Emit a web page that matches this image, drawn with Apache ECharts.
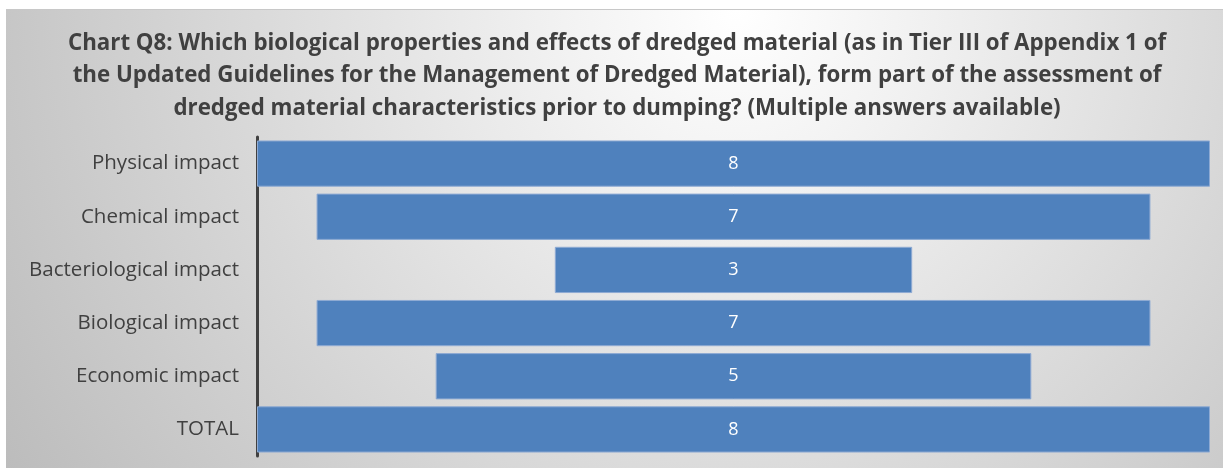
<!DOCTYPE html>
<html><head><meta charset="utf-8">
<script src="https://cdn.jsdelivr.net/npm/echarts@6/dist/echarts.min.js"></script>
<style>
html,body{margin:0;padding:0;background:#fff;}
#c{position:absolute;left:6px;top:9px;width:1217px;height:459px;border-top:1px solid #c8c8c8;
 background:radial-gradient(circle farthest-corner at 60% 0%, #ffffff 0%, #f2f2f2 20%, #bcbcbc 100%);}
</style></head><body>
<div id="c"></div>
<script>
const categories = ['Physical impact','Chemical impact','Bacteriological impact','Biological impact','Economic impact','TOTAL'];
const values = [8,7,3,7,5,8];
const maxValue = 8;
const titleText = 'Chart Q8: Which biological properties and effects of dredged material (as in Tier III of Appendix 1 of\nthe Updated Guidelines for the Management of Dredged Material), form part of the assessment of\ndredged material characteristics prior to dumping? (Multiple answers available)';

const offsets = values.map(v => (maxValue - v) / 2);
const chart = echarts.init(document.getElementById('c'));
chart.setOption({
  backgroundColor: 'transparent',
  title: {text: titleText, left: 606, top: 12, textAlign:'center',
    textStyle:{fontFamily:'Open Sans', fontWeight:'bold', fontSize:22.3, color:'#404040', lineHeight:32.5}},
  grid: {left: 251, right: 13, top: 127, bottom: 13},
  xAxis: {type:'value', min:0, max:maxValue, show:false},
  yAxis: {type:'category', data:categories, inverse:true,
    axisLine:{show:true, lineStyle:{color:'#404040', width:3}},
    axisTick:{show:false},
    axisLabel:{fontFamily:'Open Sans', fontSize:20.5, color:'#404040', margin:18}},
  series: [
    {type:'bar', stack:'s', data:offsets, itemStyle:{color:'transparent'}, barCategoryGap:'13%', silent:true},
    {type:'bar', stack:'s', data:values,
      itemStyle:{color:'#4f81bd', borderColor:'#8eaad3', borderWidth:1},
      label:{show:true, position:'inside', color:'#ffffff', fontFamily:'Open Sans', fontSize:18}}
  ]
});
</script></body></html>
